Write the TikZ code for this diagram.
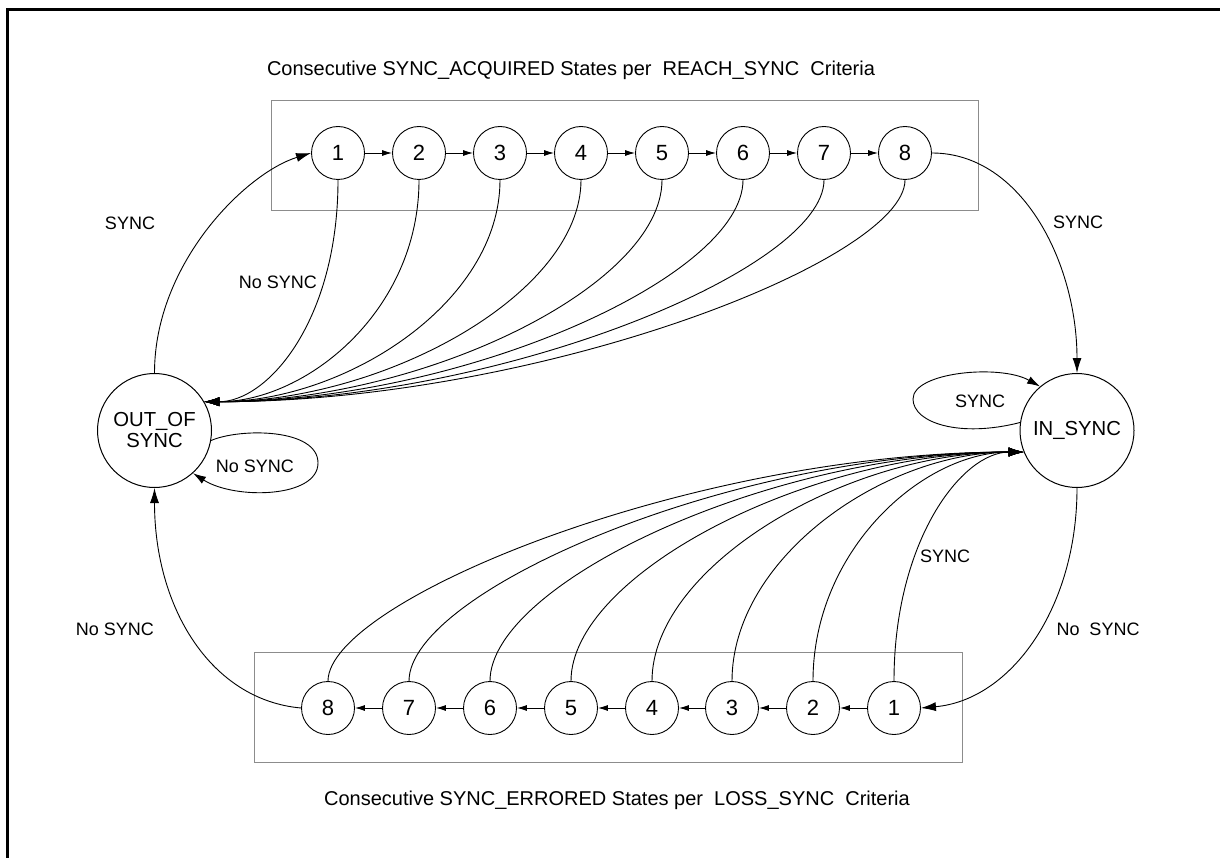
\documentclass[tikz,border=0pt]{standalone}
\usepackage{fontspec}
\setmainfont{Liberation Sans}
\usetikzlibrary{arrows.meta}
\begin{document}
\begin{tikzpicture}[x=1pt,y=1pt,
  st/.style={circle,draw,line width=0.9pt,minimum size=53pt,inner sep=0pt,font=\fontsize{22}{24}\selectfont},
  big/.style={circle,draw,line width=1pt,minimum size=114pt,inner sep=0pt,font=\fontsize{20.3}{21}\selectfont,align=center},
  lbl/.style={font=\fontsize{18}{21}\selectfont,inner sep=0pt},
  ttl/.style={font=\fontsize{20}{24}\selectfont,inner sep=0pt},
  con/.style={line width=0.9pt},
  bigarr/.style={-{Latex[length=15pt,width=9pt]}},
  midarr/.style={-{Latex[length=13pt,width=8pt]}},
  smallarr/.style={-{Latex[length=10pt,width=6pt]}},
  grp/.style={draw=black!45,line width=1pt}
]
\useasboundingbox (0,0) rectangle (1220,-858);
\fill[white] (0,0) rectangle (1220,-858);
% outer frame (top and left edges visible)
\draw[line width=3pt] (7.5,-870) -- (7.5,-9.3) -- (1230,-9.3);

% group boxes
\draw[grp] (271,-101) rectangle (978,-211);
\draw[grp] (254,-652) rectangle (962,-762);

% titles
\node[ttl] (ttop) at (571,-70) {Consecutive SYNC\_ACQUIRED States per\ \ REACH\_SYNC\ \ Criteria};
\node[ttl] (tbot) at (617,-800) {Consecutive SYNC\_ERRORED States per\ \ LOSS\_SYNC\ \ Criteria};

% big states
\node[big] (oos) at (154.5,-430.5) {OUT\_OF\\SYNC};
\node[big] (ins) at (1077,-430.5) {IN\_SYNC};

% top chain
\foreach \i/\x in {1/338,2/419,3/500,4/581,5/662,6/743,7/824,8/905}
  \node[st] (t\i) at (\x,-153) {\i};
% bottom chain
\foreach \i/\x in {1/894,2/813,3/732,4/652,5/571,6/490,7/409,8/328}
  \node[st] (b\i) at (\x,-708) {\i};

\foreach \i/\j in {1/2,2/3,3/4,4/5,5/6,6/7,7/8}{
  \draw[con,smallarr] (t\i) -- (t\j);
  \draw[con,smallarr] (b\i) -- (b\j);
}

% No SYNC from acquisition states back to OUT_OF SYNC
\foreach \i/\a/\b in {1/140/64,2/131/102,3/123/141,4/114/180,5/106/219,6/97/258,7/89/297,8/80/336}
  \draw[con,bigarr] (t\i.south) .. controls +(0,-\a) and +(\b,0) .. (oos.30);

% SYNC from errored states back to IN_SYNC
\foreach \i/\a/\b in {1/140/62,2/131/101,3/123/140,4/114/179,5/106/217,6/97/256,7/89/295,8/80/334}
  \draw[con,bigarr] (b\i.north) .. controls +(0,\a) and +(-\b,0) .. (ins.202);

% SYNC: OUT_OF SYNC -> 1
\draw[con,bigarr] (oos.north) .. controls +(0,110) and +(-65,-20) .. (t1.west);
% SYNC: 8 -> IN_SYNC
\draw[con,bigarr] (t8.east) .. controls +(90,0) and +(0,110) .. (ins.north);
% No SYNC: IN_SYNC -> 1
\draw[con,bigarr] (ins.south) .. controls +(0,-120) and +(90,8) .. (b1.east);
% No SYNC: 8 -> OUT_OF SYNC
\draw[con,bigarr] (b8.west) .. controls +(-90,8) and +(0,-120) .. (oos.south);

% self loops
\draw[con,midarr] (oos.-10) .. controls (240,-428) and (318,-428) .. (318,-463)
  .. controls (318,-498) and (235,-500) .. (oos.-48);
\draw[con,midarr] (ins.172) .. controls (960,-438) and (913,-423) .. (913,-399)
  .. controls (913,-372) and (1000,-364) .. (ins.130);

% labels
\node[lbl] (l1) at (130,-223) {SYNC};
\node[lbl] (l2) at (278,-282) {No SYNC};
\node[lbl] (l3) at (1078,-222) {SYNC};
\node[lbl] (l4) at (1098,-629) {No\ \ SYNC};
\node[lbl] (l5) at (115,-629) {No SYNC};
\node[lbl] (l6) at (945,-556) {SYNC};
\node[lbl] (l7) at (255,-466) {No SYNC};
\node[lbl] (l8) at (980,-401) {SYNC};
\end{tikzpicture}
\end{document}
